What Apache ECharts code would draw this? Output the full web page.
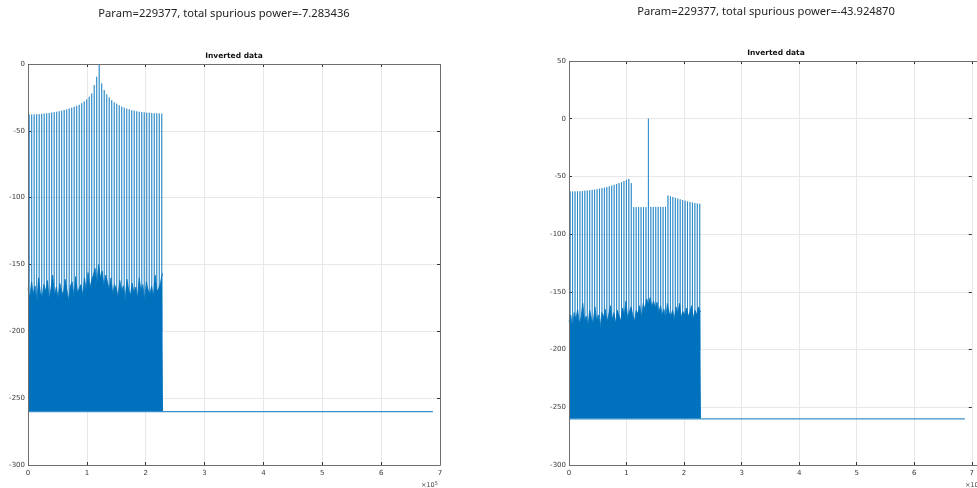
<!DOCTYPE html>
<html><head><meta charset="utf-8">
<script src="https://cdn.jsdelivr.net/npm/echarts@6/dist/echarts.min.js"></script>
<style>html,body{margin:0;padding:0;background:#fff}#c{width:977px;height:488px}</style>
</head><body><div id="c"></div>
<script>
// ---- data ----
const titles = ["Param=229377, total spurious power=-7.283436", "Param=229377, total spurious power=-43.924870"];
const subTitle = "Inverted data";
const xTicks = [0, 1, 2, 3, 4, 5, 6, 7];           // x 10^5
const yTicksLeft = [-300, -250, -200, -150, -100, -50, 0];
const yTicksRight = [-300, -250, -200, -150, -100, -50, 0, 50];
const paramLen = 229377;
const floorLevel = -260;
const floorEnd = 688000;
const spikeFreq = [2000,6250,10500,14750,19000,23250,27500,31750,36000,40250,44500,48750,53000,57250,61500,65750,70000,74250,78500,82750,87000,91250,95500,99750,104000,108250,112500,116750,121000,125250,129500,133750,138000,142250,146500,150750,155000,159250,163500,167750,172000,176250,180500,184750,189000,193250,197500,201750,206000,210250,214500,218750,223000,227250];
const spikesLeft = [-37.9,-37.8,-37.7,-37.6,-37.5,-37.3,-37.1,-36.9,-36.6,-36.3,-36,-35.7,-35.3,-34.9,-34.4,-33.9,-33.3,-32.7,-32,-31.3,-30.5,-29.3,-28,-26.5,-24.5,-22,-15.7,-9.5,0,-14.5,-19.5,-22.7,-25,-27,-28.7,-29.7,-30.9,-31.9,-32.7,-33.4,-33.9,-34.6,-34.9,-35.4,-35.7,-35.9,-36.2,-36.4,-36.5,-36.7,-36.8,-36.9,-37,-37.2];
const spikesRight = [-63,-63,-63,-62.9,-62.8,-62.6,-62.4,-62.2,-62,-61.7,-61.4,-61,-60.6,-60.2,-59.7,-59.2,-58.6,-58,-57.3,-56.6,-55.8,-55,-54,-53,-52.2,-55.8,-76.6,-76.6,-76.6,-76.6,-76.6,-76.6,0,-76.4,-76.4,-76.4,-76.4,-76.4,-76.4,-76.4,-66.5,-67.2,-67.8,-68.5,-69.2,-69.8,-70.4,-71,-71.6,-72.1,-72.6,-73,-73.4,-73.7];
const noiseStep = 3000;
const noiseLeft = [-168,-175,-163,-172,-166,-178,-160,-171,-174,-165,
  -170,-162,-176,-168,-158,-173,-167,-175,-164,-170,
  -172,-161,-169,-177,-166,-163,-174,-159,-171,-168,
  -165,-173,-160,-170,-156,-168,-162,-158,-153,-164,
  -150,-160,-155,-166,-158,-163,-169,-160,-172,-165,
  -168,-174,-162,-170,-166,-176,-161,-169,-173,-164,
  -171,-167,-175,-160,-170,-165,-177,-163,-169,-172,
  -166,-174,-158,-170,-168,-164,-157];
const noiseRight = [-176,-170,-180,-168,-174,-165,-178,-172,-160,-175,
  -171,-179,-166,-173,-177,-163,-175,-170,-181,-168,
  -172,-165,-176,-170,-162,-174,-168,-177,-166,-171,
  -175,-164,-170,-158,-173,-167,-163,-171,-175,-166,
  -169,-162,-172,-160,-165,-156,-161,-155,-163,-158,
  -164,-159,-168,-162,-170,-165,-173,-160,-168,-171,
  -166,-174,-163,-169,-160,-172,-167,-170,-164,-171,
  -168,-162,-173,-166,-170,-163,-167];

// ---- build ----
const BLUE = '#0072BD';
function spikeData(vals){
  const d = [];
  spikeFreq.forEach((f,i)=>{ d.push([f,-200],[f,vals[i]],[f,-200]); });
  return d;
}
function noiseData(vals){
  const d = vals.map((v,i)=>[i*noiseStep, v]);
  d.push([paramLen, vals[vals.length-1]]);
  return d;
}
const grids = [
  {left:28, top:64, width:412, height:401},
  {left:569, top:61, width:415, height:404}
];
const labelFont = {fontFamily:'DejaVu Sans', fontSize:7, color:'#3a3a3a'};
const axisCol = '#6e6e6e';
const xAxes = [], yAxes = [];
grids.forEach((g,gi)=>{
  ['bottom','top'].forEach(pos=>{
    xAxes.push({type:'value', gridIndex:gi, position:pos, min:0, max:700000, interval:100000,
      axisLine:{show:false, onZero:false}, axisTick:{show:true, inside:true, length:3, lineStyle:{color:'#333'}},
      axisLabel:{show:pos==='bottom', margin:5, ...labelFont, formatter:v=>String(v/100000)},
      splitLine:{show:pos==='bottom', lineStyle:{color:'#e8e8e8', width:1}}});
  });
  const ymax = gi===0 ? 0 : 50;
  ['left','right'].forEach(pos=>{
    yAxes.push({type:'value', gridIndex:gi, position:pos, min:-300, max:ymax, interval:50,
      axisLine:{show:false, onZero:false}, axisTick:{show:true, inside:true, length:3, lineStyle:{color:'#333'}},
      axisLabel:{show:pos==='left', margin:3, ...labelFont},
      splitLine:{show:pos==='left', lineStyle:{color:'#e8e8e8', width:1}}});
  });
});
const series = [];
[[spikesLeft, noiseLeft],[spikesRight, noiseRight]].forEach(([sp, nz], gi)=>{
  const xi = gi*2, yi = gi*2;
  series.push({type:'line', xAxisIndex:xi, yAxisIndex:yi, data:spikeData(sp), symbol:'none',
    lineStyle:{color:BLUE, width:0.6}, z:2});
  series.push({type:'line', xAxisIndex:xi, yAxisIndex:yi, data:noiseData(nz), symbol:'none',
    lineStyle:{color:BLUE, width:0.8}, areaStyle:{color:BLUE, opacity:1, origin:floorLevel}, z:3});
  series.push({type:'line', xAxisIndex:xi, yAxisIndex:yi, data:[[0,floorLevel],[floorEnd,floorLevel]], symbol:'none',
    lineStyle:{color:'#3a8fca', width:1.2}, z:4});
});
const graphic = [
  {type:'text', x:224, y:14, style:{text:titles[0], font:'11.2px "Noto Sans"', fill:'#222', align:'center', verticalAlign:'middle'}},
  {type:'text', x:766, y:12, style:{text:titles[1], font:'11.2px "Noto Sans"', fill:'#222', align:'center', verticalAlign:'middle'}},
  {type:'text', x:234, y:56, style:{text:subTitle, font:'bold 7.5px "DejaVu Sans"', fill:'#111', align:'center', verticalAlign:'middle'}},
  {type:'text', x:776, y:53, style:{text:subTitle, font:'bold 7.5px "DejaVu Sans"', fill:'#111', align:'center', verticalAlign:'middle'}},
  {type:'text', x:421, y:481, style:{text:'{a|×10}{b|5}', rich:{a:{font:'6.5px "DejaVu Sans"', fill:'#444'}, b:{font:'5px "DejaVu Sans"', fill:'#444', verticalAlign:'top', padding:[0,0,4,0]}}}},
  {type:'text', x:965, y:481, style:{text:'{a|×10}{b|5}', rich:{a:{font:'6.5px "DejaVu Sans"', fill:'#444'}, b:{font:'5px "DejaVu Sans"', fill:'#444', verticalAlign:'top', padding:[0,0,4,0]}}}}
];
grids.forEach(g=>{
  graphic.push({type:'rect', shape:{x:g.left+0.5, y:g.top+0.5, width:g.width, height:g.height}, style:{fill:null, stroke:axisCol, lineWidth:1}, z:10});
});
const chart = echarts.init(document.getElementById('c'), null, {renderer:'canvas'});
chart.setOption({animation:false, backgroundColor:'#fff', grid:grids, xAxis:xAxes, yAxis:yAxes, series, graphic});
</script></body></html>
